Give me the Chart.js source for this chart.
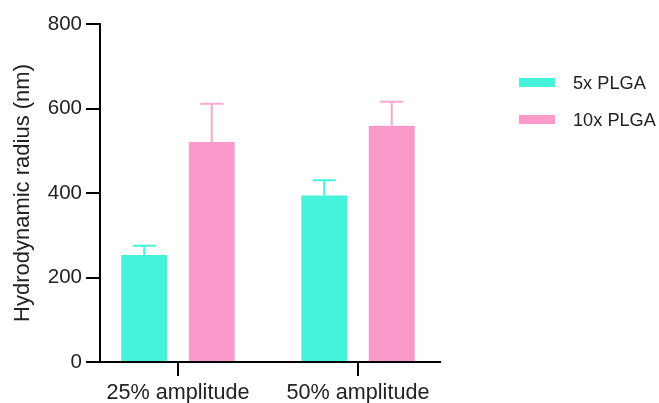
<!DOCTYPE html>
<html>
<head>
<meta charset="utf-8">
<script src="https://cdn.jsdelivr.net/npm/chart.js@4.4.1/dist/chart.umd.min.js"></script>
<style>
  html, body { margin: 0; padding: 0; background: #fff; }
  #wrap { width: 659px; height: 403px; position: relative; }
</style>
</head>
<body>
<div id="wrap"><canvas id="c" width="659" height="403"></canvas></div>
<script>
const categories = ["25% amplitude", "50% amplitude"];
const seriesLabels = ["5x PLGA", "10x PLGA"];
const values5x = [253, 394];
const values10x = [521, 559];
const errors5x = [22, 36];
const errors10x = [90, 57];
const yTicks = [0, 200, 400, 600, 800];

const colors = ["#45F2DC", "#F99ACA"];
const errColors = ["#45F2DC", "#F9A8D2"];
const FONT = "'Liberation Sans', Arial, sans-serif";
const TXT = "#222";

const errorBarPlugin = {
  id: 'errorBars',
  afterDatasetsDraw(chart) {
    const ctx = chart.ctx;
    const yScale = chart.scales.y;
    chart.data.datasets.forEach((ds, di) => {
      const meta = chart.getDatasetMeta(di);
      meta.data.forEach((bar, i) => {
        const x = bar.x;
        const top = yScale.getPixelForValue(ds.data[i].y);
        const yErr = yScale.getPixelForValue(ds.data[i].y + ds.errors[i]);
        ctx.save();
        ctx.strokeStyle = ds.errorColor;
        ctx.lineWidth = 2;
        ctx.beginPath();
        ctx.moveTo(x, top);
        ctx.lineTo(x, yErr);
        ctx.moveTo(x - 11.5, yErr);
        ctx.lineTo(x + 11.5, yErr);
        ctx.stroke();
        ctx.restore();
      });
    });
  }
};

const legendPlugin = {
  id: 'customLegend',
  afterDraw(chart) {
    const ctx = chart.ctx;
    ctx.save();
    chart.data.datasets.forEach((ds, i) => {
      const cy = 82.5 + i * 37;
      ctx.fillStyle = ds.backgroundColor;
      ctx.fillRect(519, cy - 4.5, 36, 9);
      ctx.fillStyle = TXT;
      ctx.font = "18.2px " + FONT;
      ctx.textBaseline = 'middle';
      ctx.textAlign = 'left';
      ctx.fillText(ds.label, 573, cy + 1);
    });
    ctx.restore();
  }
};

new Chart(document.getElementById('c'), {
  type: 'bar',
  data: {
    datasets: [
      {
        label: seriesLabels[0],
        data: categories.map((c, i) => ({ x: i, y: values5x[i] })),
        errors: errors5x,
        errorColor: errColors[0],
        backgroundColor: colors[0],
        categoryPercentage: 0.75,
        barPercentage: 0.68
      },
      {
        label: seriesLabels[1],
        data: categories.map((c, i) => ({ x: i, y: values10x[i] })),
        errors: errors10x,
        errorColor: errColors[1],
        backgroundColor: colors[1],
        categoryPercentage: 0.75,
        barPercentage: 0.68
      }
    ]
  },
  options: {
    responsive: false,
    animation: false,
    layout: { padding: { top: 24, right: 219, bottom: 0, left: 0 } },
    plugins: { legend: { display: false }, tooltip: { enabled: false } },
    scales: {
      x: {
        type: 'linear',
        offset: false,
        min: -0.4333,
        max: 1.4556,
        afterBuildTicks(scale) { scale.ticks = categories.map((c, i) => ({ value: i })); },
        afterFit(scale) { scale.height = 41; },
        border: { display: true, color: '#000', width: 2 },
        grid: { display: true, offset: false, drawOnChartArea: false, drawTicks: true, tickLength: 14, color: '#000', lineWidth: 2 },
        ticks: {
          padding: 4,
          color: TXT,
          font: { family: FONT, size: 21.6 },
          maxRotation: 0,
          autoSkip: false,
          callback: (v) => categories[v] !== undefined ? categories[v] : ''
        }
      },
      y: {
        min: 0,
        max: 800,
        afterBuildTicks(scale) { scale.ticks = yTicks.map(v => ({ value: v })); },
        afterFit(scale) { scale.width = 100; },
        border: { display: true, color: '#000', width: 2 },
        grid: { display: true, drawOnChartArea: false, drawTicks: true, tickLength: 14, color: '#000', lineWidth: 2 },
        ticks: {
          padding: 4,
          color: TXT,
          font: { family: FONT, size: 20.5 }
        },
        title: {
          display: true,
          text: 'Hydrodynamic radius (nm)',
          color: TXT,
          font: { family: FONT, size: 22 },
          padding: { top: 10, bottom: 0 }
        }
      }
    }
  },
  plugins: [errorBarPlugin, legendPlugin]
});
</script>
</body>
</html>
